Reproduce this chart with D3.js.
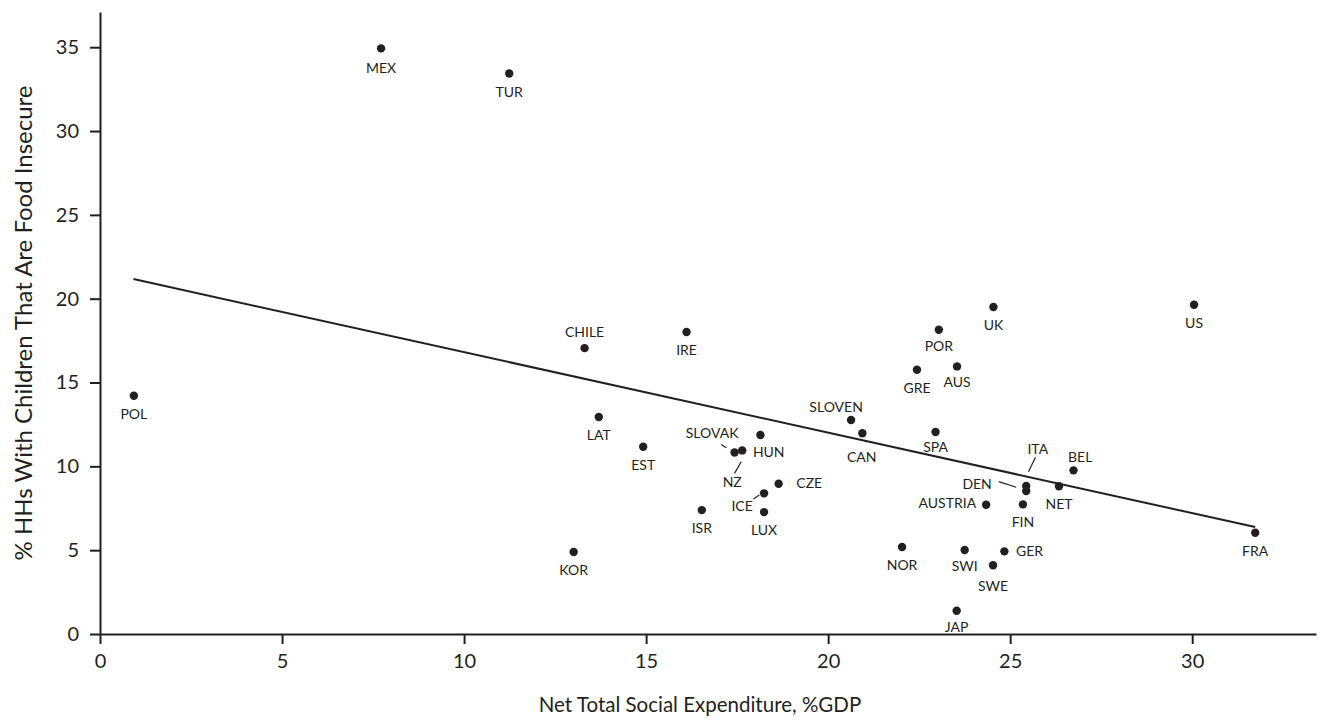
<!DOCTYPE html>
<html>
<head>
<meta charset="utf-8">
<script src="https://cdn.jsdelivr.net/npm/d3@7"></script>
<style>
  html, body { margin: 0; padding: 0; background: #fff; }
  svg { display: block; }
  text { font-family: Lato, "Open Sans", sans-serif; fill: #231f20; }
</style>
</head>
<body>
<svg id="chart" width="1326" height="720"></svg>
<script>
// ---- data ----
const countries = ["MEX","TUR","POL","CHILE","IRE","LAT","EST","KOR","ISR","SLOVAK","NZ","HUN","CZE","ICE","LUX",
  "SLOVEN","CAN","SPA","ITA","DEN","NET","BEL","AUSTRIA","FIN","NOR","SWI","GER","SWE","JAP","UK","US","POR","GRE","AUS","FRA"];
const socialExpenditure = [7.72,11.24,0.93,13.31,16.11,13.70,14.92,13.01,16.53,17.43,17.64,18.14,18.64,18.24,18.24,
  20.63,20.94,22.95,25.44,25.44,26.34,26.74,24.34,25.35,22.03,23.75,24.84,24.53,23.53,24.54,30.05,23.04,22.44,23.54,31.73];
const foodInsecure = [34.93,33.43,14.21,17.05,18.01,12.94,11.17,4.89,7.39,10.83,10.95,11.87,8.96,8.39,7.27,
  12.76,11.97,12.05,8.83,8.53,8.81,9.76,7.71,7.73,5.19,5.01,4.93,4.10,1.39,19.50,19.64,18.15,15.76,15.96,6.04];
const trendX = [0.92, 31.73];
const trendY = [21.17, 6.38];
const xTicks = [0,5,10,15,20,25,30];
const yTicks = [0,5,10,15,20,25,30,35];
const xTitle = "Net Total Social Expenditure, %GDP";
const yTitle = "% HHs With Children That Are Food Insecure";

// ---- label layout (anchor, dx, dy) and leader lines (relative offsets) ----
const labelLayout = {
  CHILE:["middle",0,-11], SLOVEN:["middle",-15,-8], SLOVAK:["middle",-22.5,-14], NZ:["middle",-10,36.4],
  HUN:["middle",8.3,21.7], CZE:["start",17.7,4.6], ICE:["middle",-22,17.7], DEN:["end",-34.4,-1.7],
  ITA:["middle",11.6,-32], BEL:["middle",6.7,-8], AUSTRIA:["end",-10,3.5], GER:["start",11.7,4.4],
  CAN:["middle",-0.7,29], SPA:["middle",0,20], SWI:["middle",0,21], SWE:["middle",0,25.5],
  POR:["middle",0,21], AUS:["middle",0,21], JAP:["middle",0,21], MEX:["middle",0,25]
};
const leaders = {
  SLOVAK:[-13.3,-8,-8.3,-4.6], NZ:[-7.7,23,-1,11.4], ICE:[-10.7,5.7,-4.7,1.7],
  DEN:[-27.4,-9.3,-10,-3.7], ITA:[2.3,-14.3,9.3,-28.7]
};

const svg = d3.select("#chart");
const ink = "#231f20";

const x = d3.scaleLinear().domain([0, 33.4]).range([100, 1316]);
const y = d3.scaleLinear().domain([0, 37.1]).range([634, 12]);

// axes
const xAxis = svg.append("g").attr("transform", "translate(0,634)")
  .call(d3.axisBottom(x).tickValues(xTicks).tickSize(10).tickPadding(10).tickSizeOuter(0).tickFormat(d3.format("d")));
const yAxis = svg.append("g").attr("transform", "translate(100,0)")
  .call(d3.axisLeft(y).tickValues(yTicks).tickSize(10).tickPadding(11).tickSizeOuter(0).tickFormat(d3.format("d")));
[xAxis, yAxis].forEach(a => {
  a.select(".domain").attr("stroke", ink).attr("stroke-width", 2);
  a.selectAll(".tick line").attr("stroke", ink).attr("stroke-width", 2);
  a.selectAll(".tick text").attr("fill", ink).style("font-size", "20px").style("font-family", "Lato, 'Open Sans', sans-serif");
});

// titles
svg.append("text").attr("x", 700).attr("y", 712).attr("text-anchor", "middle")
  .style("font-size", "20.5px").text(xTitle);
svg.append("text").attr("transform", "translate(32,323) rotate(-90)").attr("text-anchor", "middle")
  .style("font-size", "24px").text(yTitle);

// trend line
svg.append("line")
  .attr("x1", x(trendX[0])).attr("y1", y(trendY[0]))
  .attr("x2", x(trendX[1])).attr("y2", y(trendY[1]))
  .attr("stroke", ink).attr("stroke-width", 2);

const pts = countries.map((c, i) => ({ name: c, xv: socialExpenditure[i], yv: foodInsecure[i] }));

// leaders
svg.append("g").selectAll("line").data(pts.filter(d => leaders[d.name])).join("line")
  .attr("x1", d => x(d.xv) + leaders[d.name][0]).attr("y1", d => y(d.yv) + leaders[d.name][1])
  .attr("x2", d => x(d.xv) + leaders[d.name][2]).attr("y2", d => y(d.yv) + leaders[d.name][3])
  .attr("stroke", ink).attr("stroke-width", 1.2);

// points
svg.append("g").selectAll("circle").data(pts).join("circle")
  .attr("cx", d => x(d.xv)).attr("cy", d => y(d.yv)).attr("r", 4.2).attr("fill", ink);

// labels
svg.append("g").selectAll("text").data(pts).join("text")
  .attr("x", d => x(d.xv) + (labelLayout[d.name] ? labelLayout[d.name][1] : 0))
  .attr("y", d => y(d.yv) + (labelLayout[d.name] ? labelLayout[d.name][2] : 23))
  .attr("text-anchor", d => labelLayout[d.name] ? labelLayout[d.name][0] : "middle")
  .style("font-size", "14px")
  .text(d => d.name);
</script>
</body>
</html>
